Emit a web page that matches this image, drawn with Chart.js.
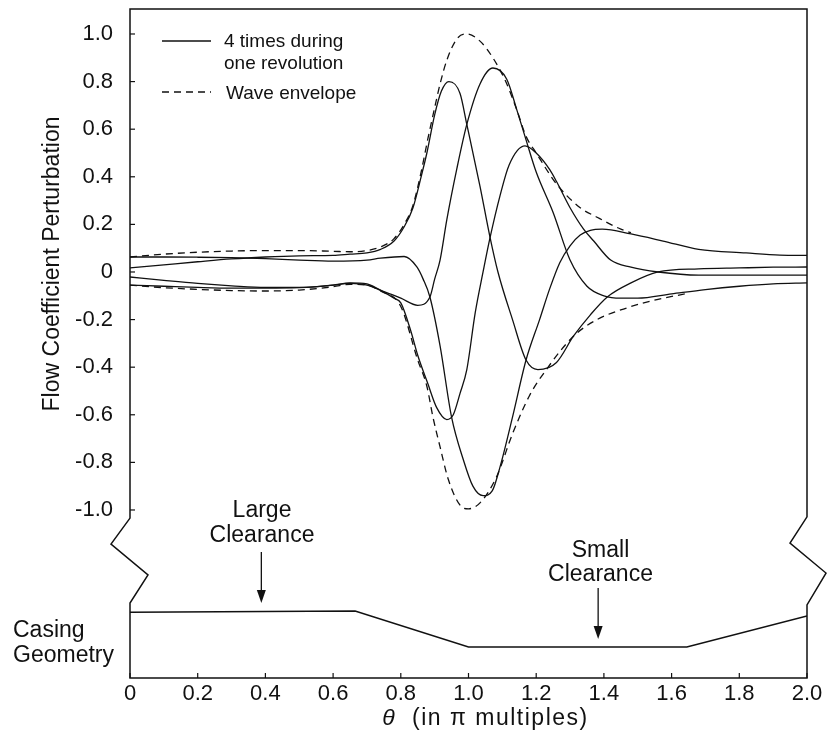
<!DOCTYPE html>
<html lang="en">
<head>
<meta charset="UTF-8" />
<title>Flow Coefficient Perturbation</title>
<script src="https://cdn.jsdelivr.net/npm/chart.js"></script>
<style>
  html, body { margin: 0; padding: 0; background: #fff; }
  #wrap { width: 832px; height: 744px; }
</style>
</head>
<body>
<div id="wrap"><canvas id="chart" width="832" height="744"></canvas></div>
<script>
// theta in multiples of pi
const xTicks = [0, 0.2, 0.4, 0.6, 0.8, 1.0, 1.2, 1.4, 1.6, 1.8, 2.0];
const yTicks = [-1.0, -0.8, -0.6, -0.4, -0.2, 0, 0.2, 0.4, 0.6, 0.8, 1.0];

// the four snapshots during one revolution
const snap1Theta = [0, 0.1, 0.2, 0.3, 0.4, 0.5, 0.6, 0.65, 0.7, 0.74, 0.78, 0.81, 0.836, 0.86, 0.877, 0.9, 0.92, 0.942, 0.975, 0.995, 1.034, 1.063, 1.087, 1.13, 1.17, 1.205, 1.26, 1.31, 1.36, 1.41, 1.48, 1.56, 1.68, 1.8, 1.9, 2.0];
const snap1Vals  = [0.017, 0.03, 0.043, 0.055, 0.063, 0.068, 0.07, 0.075, 0.08, 0.095, 0.13, 0.19, 0.27, 0.40, 0.50, 0.66, 0.76, 0.80, 0.75, 0.62, 0.36, 0.15, 0.0, -0.2, -0.37, -0.41, -0.38, -0.27, -0.18, -0.105, -0.046, 0.0, 0.013, 0.017, 0.02, 0.021];

const snap2Theta = [0, 0.1, 0.2, 0.3, 0.4, 0.5, 0.6, 0.65, 0.7, 0.74, 0.8, 0.85, 0.886, 0.9, 0.916, 0.936, 0.965, 0.995, 1.034, 1.072, 1.113, 1.143, 1.17, 1.2, 1.25, 1.3, 1.35, 1.4, 1.45, 1.5, 1.6, 1.7, 1.8, 1.9, 2.0];
const snap2Vals  = [-0.055, -0.06, -0.065, -0.068, -0.068, -0.066, -0.055, -0.046, -0.05, -0.076, -0.11, -0.14, -0.105, -0.03, 0.05, 0.22, 0.43, 0.62, 0.79, 0.857, 0.81, 0.68, 0.555, 0.42, 0.25, 0.05, -0.06, -0.10, -0.11, -0.11, -0.092, -0.074, -0.06, -0.05, -0.046];

const snap3Theta = [0, 0.1, 0.2, 0.3, 0.4, 0.5, 0.6, 0.7, 0.74, 0.81, 0.848, 0.866, 0.886, 0.916, 0.95, 0.985, 1.013, 1.043, 1.07, 1.093, 1.13, 1.17, 1.21, 1.24, 1.27, 1.3, 1.33, 1.36, 1.395, 1.48, 1.575, 1.68, 1.82, 1.92, 2.0];
const snap3Vals  = [0.063, 0.063, 0.062, 0.06, 0.056, 0.05, 0.046, 0.05, 0.058, 0.065, 0.02, -0.03, -0.105, -0.31, -0.61, -0.79, -0.90, -0.94, -0.92, -0.82, -0.61, -0.37, -0.2, -0.07, 0.04, 0.11, 0.155, 0.175, 0.18, 0.16, 0.13, 0.095, 0.08, 0.071, 0.07];

const snap4Theta = [0, 0.1, 0.2, 0.3, 0.4, 0.5, 0.6, 0.65, 0.7, 0.74, 0.78, 0.8, 0.83, 0.85, 0.88, 0.906, 0.936, 0.955, 0.975, 0.995, 1.02, 1.043, 1.063, 1.093, 1.12, 1.167, 1.2, 1.24, 1.26, 1.3, 1.34, 1.37, 1.42, 1.48, 1.56, 1.68, 1.8, 2.0];
const snap4Vals  = [-0.021, -0.035, -0.048, -0.058, -0.065, -0.065, -0.055, -0.048, -0.055, -0.077, -0.11, -0.13, -0.25, -0.35, -0.47, -0.57, -0.62, -0.60, -0.51, -0.41, -0.17, 0.0, 0.14, 0.32, 0.45, 0.53, 0.50, 0.43, 0.38, 0.27, 0.18, 0.13, 0.05, 0.02, 0.0, -0.013, -0.013, -0.013];

// wave envelope, upper and lower branch
const upperEnvTheta = [0, 0.1, 0.2, 0.3, 0.4, 0.5, 0.6, 0.65, 0.7, 0.74, 0.78, 0.81, 0.836, 0.86, 0.88, 0.9, 0.916, 0.936, 0.966, 0.995, 1.034, 1.072, 1.11, 1.143, 1.17, 1.2, 1.26, 1.33, 1.38, 1.45, 1.48];
const upperEnvVals  = [0.063, 0.075, 0.083, 0.088, 0.09, 0.09, 0.087, 0.085, 0.09, 0.105, 0.14, 0.2, 0.28, 0.42, 0.56, 0.69, 0.79, 0.89, 0.98, 1.0, 0.97, 0.9, 0.80, 0.68, 0.57, 0.50, 0.37, 0.27, 0.23, 0.18, 0.165];

const lowerEnvTheta = [0, 0.1, 0.2, 0.3, 0.4, 0.5, 0.6, 0.65, 0.7, 0.74, 0.8, 0.85, 0.877, 0.895, 0.916, 0.94, 0.975, 1.0, 1.034, 1.083, 1.13, 1.18, 1.23, 1.31, 1.38, 1.47, 1.56, 1.64];
const lowerEnvVals  = [-0.055, -0.066, -0.073, -0.078, -0.08, -0.076, -0.062, -0.052, -0.055, -0.08, -0.145, -0.37, -0.48, -0.61, -0.735, -0.87, -0.98, -0.995, -0.97, -0.86, -0.68, -0.52, -0.41, -0.27, -0.2, -0.15, -0.115, -0.092];

// casing outline, drawn in the lower panel below the axis break
const casingTheta = [0, 0.665, 1.0, 1.645, 2.0];
const casingLevel = [-1.43, -1.425, -1.576, -1.576, -1.445];

const FONT = '"Liberation Sans", Arial, Helvetica, sans-serif';
const pts = (xs, ys) => xs.map((t, i) => ({ x: t, y: ys[i] }));

function curve(label, xs, ys, dash) {
  return {
    label, data: pts(xs, ys),
    borderColor: '#111', borderWidth: 1.3, borderDash: dash || [],
    pointRadius: 0, showLine: true, fill: false,
    tension: 0.4, cubicInterpolationMode: 'monotone'
  };
}

function line(ctx, x0, y0, x1, y1) {
  ctx.beginPath(); ctx.moveTo(x0, y0); ctx.lineTo(x1, y1); ctx.stroke();
}

function arrowDown(ctx, x, yFrom, yTip) {
  line(ctx, x, yFrom, x, yTip - 10);
  ctx.beginPath();
  ctx.moveTo(x - 4.5, yTip - 13); ctx.lineTo(x + 4.5, yTip - 13); ctx.lineTo(x, yTip);
  ctx.closePath(); ctx.fill();
}

const figureDecor = {
  id: 'figureDecor',
  afterDatasetsDraw(chart) {
    const { ctx, chartArea: a, scales: { x, y } } = chart;
    const L = a.left, R = a.right, T = a.top, B = a.bottom;
    ctx.save();
    ctx.strokeStyle = '#111'; ctx.fillStyle = '#111';
    ctx.lineWidth = 1.5; ctx.lineJoin = 'miter';

    // frame with the break marks between both panels
    ctx.beginPath();
    ctx.moveTo(L, B); ctx.lineTo(L, y.getPixelForValue(-1.391));
    ctx.lineTo(L + 18, y.getPixelForValue(-1.273));
    ctx.lineTo(L - 19, y.getPixelForValue(-1.143));
    ctx.lineTo(L, y.getPixelForValue(-1.034));
    ctx.lineTo(L, T); ctx.lineTo(R, T);
    ctx.lineTo(R, y.getPixelForValue(-1.029));
    ctx.lineTo(R - 17, y.getPixelForValue(-1.139));
    ctx.lineTo(R + 19, y.getPixelForValue(-1.265));
    ctx.lineTo(R, y.getPixelForValue(-1.399));
    ctx.lineTo(R, B); ctx.closePath();
    ctx.stroke();

    // inward tick marks
    ctx.lineWidth = 1.2;
    yTicks.forEach(v => { const p = y.getPixelForValue(v); line(ctx, L, p, L + 5, p); });
    xTicks.forEach(v => { const p = x.getPixelForValue(v); line(ctx, p, B, p, B - 5); });

    // legend
    ctx.lineWidth = 1.3;
    line(ctx, L + 32, T + 32, L + 81, T + 32);
    ctx.setLineDash([7, 5]);
    line(ctx, L + 32, T + 83, L + 81, T + 83);
    ctx.setLineDash([]);
    ctx.font = '19px ' + FONT;
    ctx.textAlign = 'left'; ctx.textBaseline = 'alphabetic';
    ctx.fillText('4 times during', L + 94, T + 38);
    ctx.fillText('one revolution', L + 94, T + 60);
    ctx.fillText('Wave envelope', L + 96, T + 90);

    // y axis title, centred on the upper panel
    ctx.save();
    ctx.translate(53, (y.getPixelForValue(1.0) + y.getPixelForValue(-1.0)) / 2 - 8);
    ctx.rotate(-Math.PI / 2);
    ctx.font = '23px ' + FONT; ctx.textAlign = 'center'; ctx.textBaseline = 'middle';
    ctx.fillText('Flow Coefficient Perturbation', 0, 0);
    ctx.restore();

    // x axis title with italic theta
    ctx.save();
    ctx.textBaseline = 'alphabetic';
    ctx.letterSpacing = '1.5px';
    const f1 = 'italic 23px ' + FONT, f2 = '23px ' + FONT;
    const t1 = '\u03b8', t2 = '  (in \u03c0 multiples)';
    ctx.font = f1; const w1 = ctx.measureText(t1).width;
    ctx.font = f2; const w2 = ctx.measureText(t2).width;
    const sx = (L + R) / 2 + 17 - (w1 + w2) / 2;
    ctx.font = f1; ctx.textAlign = 'left'; ctx.fillText(t1, sx, 725);
    ctx.font = f2; ctx.fillText(t2, sx + w1, 725);
    ctx.restore();

    // casing annotations
    ctx.font = '23px ' + FONT; ctx.textAlign = 'center';
    const xl = x.getPixelForValue(0.39);
    ctx.fillText('Large', xl, 517);
    ctx.fillText('Clearance', xl, 542);
    arrowDown(ctx, x.getPixelForValue(0.388), 552, 603);
    const xs = x.getPixelForValue(1.39);
    ctx.fillText('Small', xs, 557);
    ctx.fillText('Clearance', xs, 581);
    arrowDown(ctx, x.getPixelForValue(1.383), 588, 639);
    ctx.textAlign = 'left';
    ctx.fillText('Casing', 13, 637);
    ctx.fillText('Geometry', 13, 662);
    ctx.restore();
  }
};

const tickFmt = v => (v === 0 ? '0' : v.toFixed(1));

new Chart(document.getElementById('chart'), {
  type: 'scatter',
  data: {
    datasets: [
      curve('Snapshot 1', snap1Theta, snap1Vals),
      curve('Snapshot 2', snap2Theta, snap2Vals),
      curve('Snapshot 3', snap3Theta, snap3Vals),
      curve('Snapshot 4', snap4Theta, snap4Vals),
      curve('Wave envelope', upperEnvTheta, upperEnvVals, [7, 5]),
      curve('Wave envelope (lower)', lowerEnvTheta, lowerEnvVals, [7, 5]),
      { label: 'Casing geometry', data: pts(casingTheta, casingLevel), borderColor: '#111', borderWidth: 1.5,
        pointRadius: 0, showLine: true, tension: 0 }
    ]
  },
  options: {
    responsive: false, animation: false, devicePixelRatio: 1,
    layout: { padding: { top: 9, right: 25, left: 0, bottom: 0 } },
    plugins: { legend: { display: false }, tooltip: { enabled: false } },
    scales: {
      x: {
        type: 'linear', min: 0, max: 2,
        grid: { display: false, drawTicks: false }, border: { display: false },
        afterBuildTicks: s => { s.ticks = xTicks.map(v => ({ value: v })); },
        afterFit: s => { s.height = 66; s.paddingLeft = 0; s.paddingRight = 0; },
        ticks: { color: '#111', padding: 3, font: { family: FONT, size: 22 }, callback: tickFmt, maxRotation: 0 }
      },
      y: {
        type: 'linear', min: -1.706, max: 1.105,
        grid: { display: false, drawTicks: false }, border: { display: false },
        afterBuildTicks: s => { s.ticks = yTicks.map(v => ({ value: v })); },
        afterFit: s => { s.width = 130; s.paddingTop = 0; s.paddingBottom = 0; },
        ticks: { color: '#111', padding: 17, font: { family: FONT, size: 22 }, callback: tickFmt }
      }
    }
  },
  plugins: [figureDecor]
});
</script>
</body>
</html>
